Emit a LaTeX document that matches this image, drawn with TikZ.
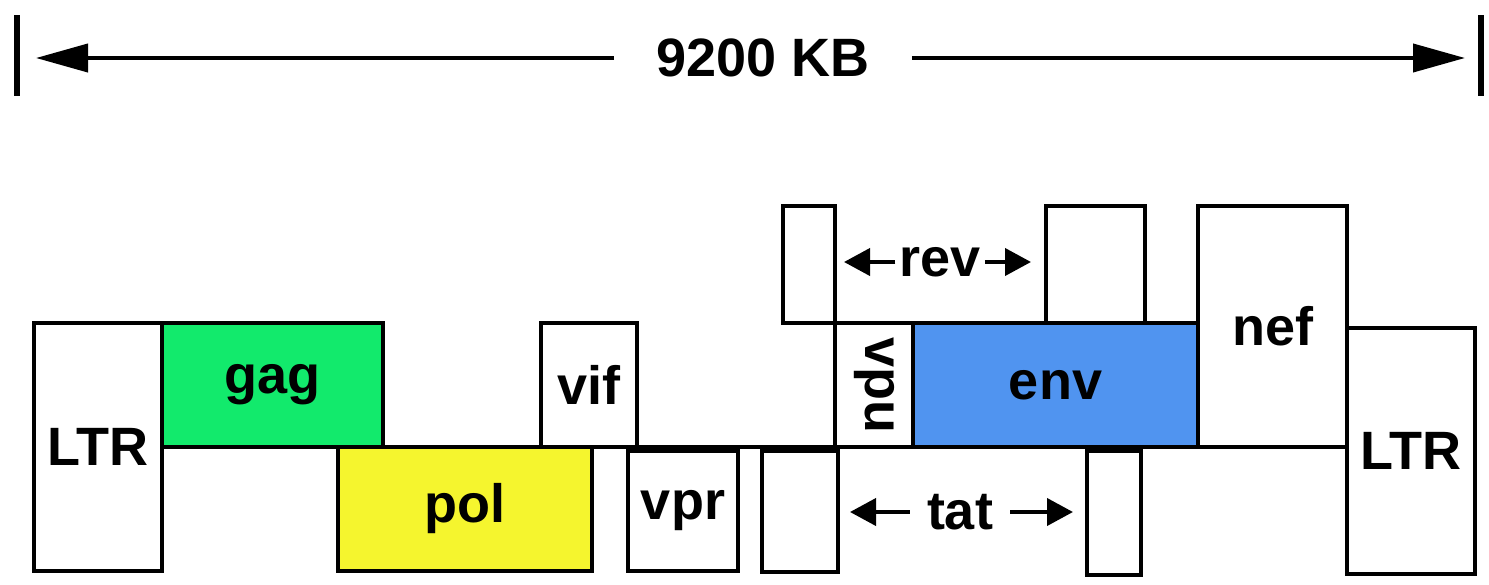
\documentclass[tikz,border=0pt]{standalone}
\usepackage{fontspec}
\setmainfont{Liberation Sans}
\usetikzlibrary{arrows.meta}
\definecolor{gaggreen}{RGB}{18,234,108}
\definecolor{polyellow}{RGB}{245,245,46}
\definecolor{envblue}{RGB}{80,148,240}
\newcommand{\lblfont}{\fontsize{54}{54}\selectfont\bfseries}
\begin{document}
\begin{tikzpicture}[x=1pt,y=-1pt,
  genebox/.style={draw=black, line width=4pt, fill=white, rectangle, inner sep=0pt, font=\lblfont},
  lbl/.style={inner xsep=4pt, inner ysep=0pt, font=\lblfont},
  bigarrow/.style={line width=4pt, -{Triangle[length=52pt,width=28pt]}},
  smallarrow/.style={line width=4pt, -{Triangle[length=26pt,width=27pt]}},
  endbar/.style={line width=6pt}]
\useasboundingbox (0,0) rectangle (1489,584);

% scale bar
\coordinate (barLt) at (17,15);
\coordinate (barLb) at (17,96);
\coordinate (barRt) at (1481,15);
\coordinate (barRb) at (1481,96);
\draw[endbar] (barLt) -- (barLb);
\draw[endbar] (barRt) -- (barRb);
\node[lbl, inner xsep=42pt] (kb) at (763,58) {9200 KB};
\coordinate (tipL) at (36,58);
\coordinate (tipR) at (1465,58);
\draw[bigarrow] (kb.west) -- (tipL);
\draw[bigarrow] (kb.east) -- (tipR);

% boxes
\node[genebox, minimum width=128, minimum height=248] (ltrL) at (98,447) {LTR};
\coordinate (lineR) at (1347,447);
\draw[line width=4pt] (ltrL.east) -- (lineR);
\node[genebox, fill=gaggreen, minimum width=221, minimum height=124] (gag) at (272.5,385) {gag};
\node[genebox, fill=polyellow, minimum width=254, minimum height=124] (pol) at (465,509) {pol};
\node[genebox, minimum width=96, minimum height=124] (vif) at (589,385) {vif};
\node[genebox, minimum width=110, minimum height=120] (vpr) at (683,511) {vpr};
\node[genebox, minimum width=76, minimum height=121] (tatA) at (800,511.5) {};
\node[genebox, minimum width=52, minimum height=117] (revA) at (809,264.5) {};
\node[genebox, minimum width=78, minimum height=124] (vpu) at (874,385) {};
\node[font=\lblfont, rotate=-90, inner sep=0pt] (vputxt) at (vpu.center) {vpu};
\node[genebox, fill=envblue, minimum width=285, minimum height=124] (env) at (1055.5,385) {env};
\node[genebox, minimum width=99, minimum height=117] (revB) at (1095.5,264.5) {};
\node[genebox, minimum width=149, minimum height=241] (nef) at (1272.5,326.5) {nef};
\node[genebox, minimum width=128, minimum height=246] (ltrR) at (1411,451) {LTR};
\node[genebox, minimum width=54, minimum height=124] (tatB) at (1114,513) {};

% rev label
\node[lbl, inner xsep=4pt] (rev) at (940,262) {rev};
\coordinate (revTipL) at (844,262);
\coordinate (revTipR) at (1031,262);
\draw[smallarrow] (rev.west) -- (revTipL);
\draw[smallarrow] (rev.east) -- (revTipR);

% tat label
\node[lbl, inner xsep=17pt] (tat) at (960,512) {tat};
\coordinate (tatTipL) at (850,512);
\coordinate (tatTipR) at (1073,512);
\draw[smallarrow] (tat.west) -- (tatTipL);
\draw[smallarrow] (tat.east) -- (tatTipR);
\end{tikzpicture}
\end{document}
